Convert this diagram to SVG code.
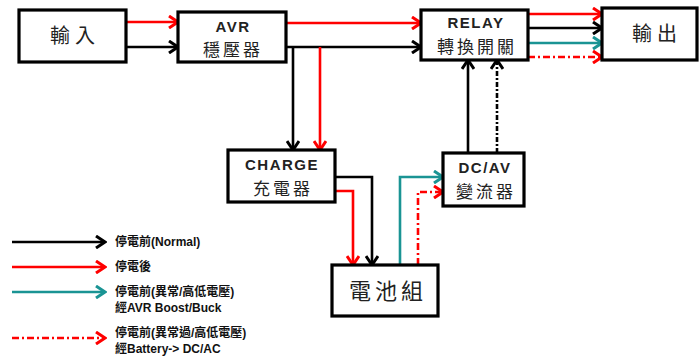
<svg xmlns="http://www.w3.org/2000/svg" width="699" height="357" viewBox="0 0 699 357">
<style>
.box{fill:#fff;stroke:#000;stroke-width:3.2}
.t{font-family:"Noto Sans CJK TC","Liberation Sans",sans-serif;fill:#222;text-anchor:middle}
.big{font-size:20px;letter-spacing:5px}
.en{font-family:"Liberation Sans","Noto Sans CJK TC",sans-serif;font-weight:bold;font-size:15px;fill:#222;text-anchor:middle;letter-spacing:1.5px}
.mid{font-size:17px;letter-spacing:3px}
.lg{font-family:"Liberation Sans","Noto Sans CJK TC",sans-serif;font-weight:bold;font-size:12px;fill:#111}
.k{fill:none;stroke:#000;stroke-width:2.6;marker-end:url(#ak)}
.r{fill:none;stroke:#f00;stroke-width:2.6;marker-end:url(#ar)}
.g{fill:none;stroke:#1a9494;stroke-width:2.6;marker-end:url(#ag)}
.rd{fill:none;stroke:#f00;stroke-width:2.6;stroke-dasharray:7 3 2 3;marker-end:url(#ar)}
.kd{fill:none;stroke:#000;stroke-width:2.6;stroke-dasharray:5 2 2 2;marker-end:url(#ak)}
</style>
<defs>
<marker id="ak" viewBox="0 0 14 14" markerWidth="14" markerHeight="14" refX="12" refY="7" orient="auto" markerUnits="userSpaceOnUse"><path d="M3,1 L12,7 L3,13" fill="none" stroke="#000" stroke-width="3"/></marker>
<marker id="ar" viewBox="0 0 14 14" markerWidth="14" markerHeight="14" refX="12" refY="7" orient="auto" markerUnits="userSpaceOnUse"><path d="M3,1 L12,7 L3,13" fill="none" stroke="#f00" stroke-width="3"/></marker>
<marker id="ag" viewBox="0 0 14 14" markerWidth="14" markerHeight="14" refX="12" refY="7" orient="auto" markerUnits="userSpaceOnUse"><path d="M3,1 L12,7 L3,13" fill="none" stroke="#1a9494" stroke-width="3"/></marker>
</defs>
<rect width="699" height="357" fill="#fff"/>
<g id="connectors">
<path class="r" d="M126,22 H178"/>
<path class="k" d="M126,47 H178"/>
<path class="r" d="M286,23 H421"/>
<path class="k" d="M286,47 H421"/>
<path class="k" d="M293,47 V150"/>
<path class="r" d="M320,47 V150"/>
<path class="r" d="M528,14 H602"/>
<path class="k" d="M528,28 H602"/>
<path class="g" d="M528,43 H602"/>
<path class="rd" d="M528,57 H602"/>
<path class="k" d="M335,177 H372 V265"/>
<path class="r" d="M335,191 H353 V265"/>
<path class="g" d="M400,265 V177 H443"/>
<path class="rd" d="M418,265 V192 H443"/>
<path class="k" d="M468,153 V60"/>
<path class="kd" d="M497,153 V60"/>
</g>
<g id="input"><rect class="box" x="19" y="10" width="107" height="52"/><text class="t big" x="75" y="43">輸入</text></g>
<g id="avr"><rect class="box" x="178" y="12" width="108" height="50"/><text class="en" x="233" y="32">AVR</text><text class="t mid" x="233" y="56">穩壓器</text></g>
<g id="relay"><rect class="box" x="421" y="10" width="107" height="50"/><text class="en" x="476" y="28">RELAY</text><text class="t mid" x="477" y="53">轉換開關</text></g>
<g id="output"><rect class="box" x="602" y="8" width="95" height="52"/><text class="t big" x="657" y="41">輸出</text></g>
<g id="charge"><rect class="box" x="228" y="150" width="107" height="52"/><text class="en" x="282" y="170">CHARGE</text><text class="t mid" x="283" y="195">充電器</text></g>
<g id="dcav"><rect class="box" x="443" y="153" width="81" height="53"/><text class="en" x="485" y="173">DC/AV</text><text class="t mid" x="486" y="198">變流器</text></g>
<g id="battery"><rect class="box" x="332" y="265" width="106" height="51"/><text class="t big" x="388" y="299" style="font-size:22px;letter-spacing:4px">電池組</text></g>
<g id="legend">
<path class="k" d="M12,242 H105"/>
<path class="r" d="M12,267 H105"/>
<path class="g" d="M12,292 H105"/>
<path class="rd" d="M12,338 H105"/>
<text class="lg" x="115" y="246">停電前(Normal)</text>
<text class="lg" x="115" y="271">停電後</text>
<text class="lg" x="115" y="296">停電前(異常/高低電壓)</text>
<text class="lg" x="115" y="312">經AVR Boost/Buck</text>
<text class="lg" x="115" y="337">停電前(異常過/高低電壓)</text>
<text class="lg" x="115" y="353">經Battery-&gt; DC/AC</text>
</g>
</svg>
